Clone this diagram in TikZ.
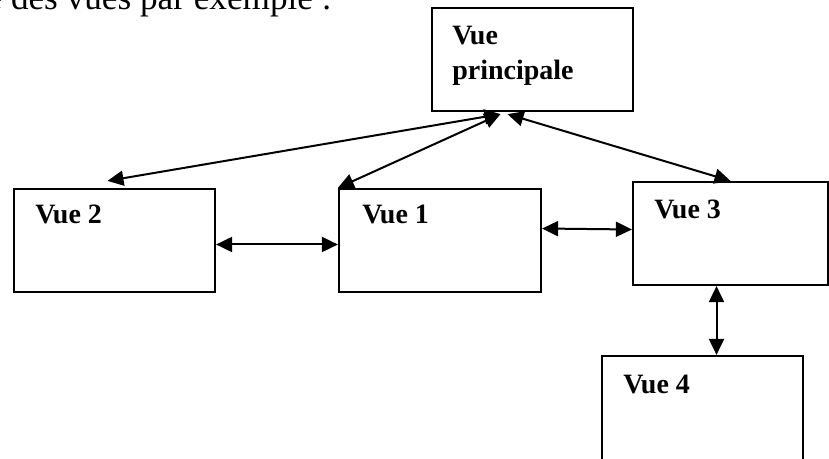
\documentclass[tikz,border=0pt]{standalone}
\usepackage{fontspec}
\setmainfont{Liberation Serif}
\usetikzlibrary{arrows.meta}

\tikzset{
  vue/.style={draw, line width=1.1pt, minimum width=100.5pt, minimum height=51.5pt, inner sep=0pt},
  titre/.style={anchor=north west, inner sep=0pt, align=left, font=\fontsize{14}{17.5}\selectfont\bfseries},
  intro/.style={anchor=base east, inner sep=0pt, font=\fontsize{17.6}{20}\selectfont},
  lien/.style={line width=1pt, {Triangle[length=8pt,width=7.5pt]}-{Triangle[length=8pt,width=7.5pt]}}
}

\begin{document}
\begin{tikzpicture}[x=0.5pt,y=-0.5pt]
  \useasboundingbox (0,0) rectangle (829,459);
  \clip (0,0) rectangle (829,459);

  \node[intro] (phrase) at (332,10) {e des vues par exemple :};

  % les vues
  \node[vue] (vp) at (532.5,59.5) {};
  \node[vue] (v2) at (114.5,240.5) {};
  \node[vue, minimum width=101pt] (v1) at (440,240.5) {};
  \node[vue, minimum width=97.5pt] (v3) at (730.5,233.5) {};
  \node[vue, minimum height=60pt] (v4) at (702.5,416) {};

  \node[titre] (tvp) at ([shift={(10.5pt,-9.5pt)}]vp.north west) {Vue\\principale};
  \node[titre] (tv2) at ([shift={(11pt,-8.5pt)}]v2.north west) {Vue 2};
  \node[titre] (tv1) at ([shift={(12pt,-8.5pt)}]v1.north west) {Vue 1};
  \node[titre] (tv3) at ([shift={(11pt,-9.5pt)}]v3.north west) {Vue 3};
  \node[titre] (tv4) at ([shift={(11pt,-10pt)}]v4.north west) {Vue 4};

  % liens
  \draw[lien] ([shift={(-16pt,-1pt)}]vp.south) -- ([shift={(-3.5pt,3.5pt)}]v2.north);
  \draw[lien] ([shift={(-16pt,-1pt)}]vp.south) -- (v1.north west);
  \draw[lien] ([shift={(-12.5pt,-1pt)}]vp.south) -- (v3.north);
  \draw[lien] ([yshift=-2pt]v2.east) -- ([yshift=-2pt]v1.west);
  \draw[lien] ([yshift=6pt]v1.east) -- ([yshift=2pt]v3.west);
  \draw[lien] ([xshift=-7pt]v3.south) -- ([xshift=7pt]v4.north);
\end{tikzpicture}
\end{document}
